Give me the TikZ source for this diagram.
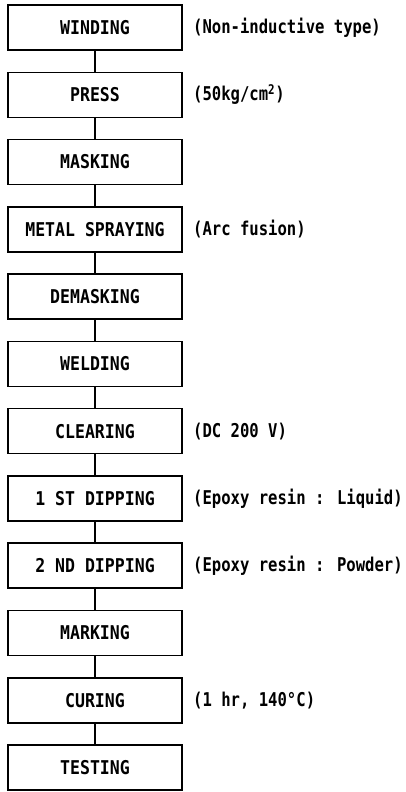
\documentclass[tikz,border=0pt]{standalone}
\usepackage{fontspec}
\newfontfamily\boxmono[FakeStretch=0.87]{DejaVu Sans Mono}
\newfontfamily\notemono[FakeStretch=0.82]{DejaVu Sans Mono}
\begin{document}
\begin{tikzpicture}[x=1pt,y=-1pt,
  stepbox/.style={draw, line width=1.6pt, minimum width=174pt, minimum height=45pt,
    inner sep=0pt, font=\boxmono\bfseries\fontsize{19}{21}\selectfont},
  note/.style={anchor=west, inner sep=0pt, font=\notemono\bfseries\fontsize{19}{21}\selectfont},
  link/.style={line width=1.5pt}]
\useasboundingbox (0,0) rectangle (405,792);
\node[stepbox] (n0)  at (95,27.5)  {WINDING};
\node[stepbox] (n1)  at (95,94.8)  {PRESS};
\node[stepbox] (n2)  at (95,162.0) {MASKING};
\node[stepbox] (n3)  at (95,229.3) {METAL SPRAYING};
\node[stepbox] (n4)  at (95,296.6) {DEMASKING};
\node[stepbox] (n5)  at (95,363.9) {WELDING};
\node[stepbox] (n6)  at (95,431.1) {CLEARING};
\node[stepbox] (n7)  at (95,498.4) {1 ST DIPPING};
\node[stepbox] (n8)  at (95,565.7) {2 ND DIPPING};
\node[stepbox] (n9)  at (95,632.9) {MARKING};
\node[stepbox] (n10) at (95,700.2) {CURING};
\node[stepbox] (n11) at (95,767.5) {TESTING};
\foreach \a/\b in {n0/n1,n1/n2,n2/n3,n3/n4,n4/n5,n5/n6,n6/n7,n7/n8,n8/n9,n9/n10,n10/n11}
  \draw[link] (\a) -- (\b);
\node[note] (l0)  at (193,27.5)  {(Non-inductive type)};
\node[note] (l1)  at (193,94.8)  {(50kg/cm\textsuperscript{2})};
\node[note] (l3)  at (193,229.3) {(Arc fusion)};
\node[note] (l6)  at (193,431.1) {(DC 200 V)};
\node[note] (l7)  at (193,498.4) {(Epoxy resin : Liquid)};
\node[note] (l8)  at (193,565.7) {(Epoxy resin : Powder)};
\node[note] (l10) at (193,700.2) {(1 hr, 140°C)};
\end{tikzpicture}
\end{document}
